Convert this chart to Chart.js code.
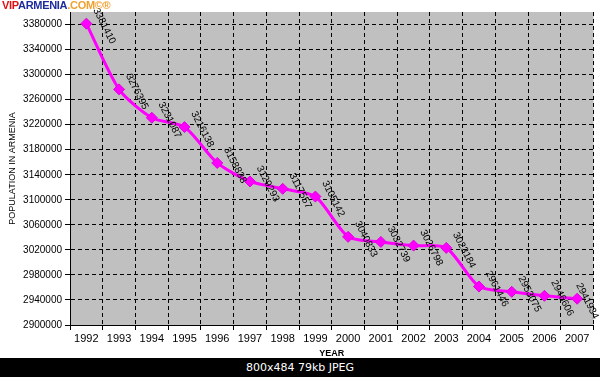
<!DOCTYPE html>
<html lang="en">

<head>
    <meta charset="UTF-8" />
    <title>Population in Armenia</title>
    <script src="https://cdn.jsdelivr.net/npm/chart.js@4.4.1/dist/chart.umd.min.js"></script>
    <style type="text/css">
        body {
            margin: 0;
            background: #fff;
        }

        .chartBox {
            position: relative;
            width: 600px;
            height: 358px;
        }

        .mark {
            position: absolute;
            left: 2px;
            top: -1px;
            font: bold 11px "Liberation Sans", Arial, sans-serif;
            letter-spacing: -0.3px;
        }

        .bar {
            width: 600px;
            height: 19px;
            background: #000;
            color: #fff;
            font: 11px "DejaVu Sans", sans-serif;
            text-align: center;
            line-height: 19px;
        }
    </style>
</head>

<body>
    <div class="chartBox">
        <canvas id="myChart" width="600" height="358"></canvas>
        <div class="mark"><span style="color:#e01010">VIP</span><span style="color:#1c2c9c">ARMENIA</span><span style="color:#f0a030">.COM©®</span></div>
    </div>
    <div class="bar">800x484 79kb JPEG</div>

    <script>
        const years = ['1992', '1993', '1994', '1995', '1996', '1997', '1998', '1999',
            '2000', '2001', '2002', '2003', '2004', '2005', '2006', '2007'];
        const population = [3381410, 3276395, 3231087, 3216138, 3158838, 3129293, 3117557, 3105142,
            3040833, 3032739, 3026798, 3023184, 2961446, 2953075, 2946606, 2941934];
        const yTicks = [2900000, 2940000, 2980000, 3020000, 3060000, 3100000, 3140000,
            3180000, 3220000, 3260000, 3300000, 3340000, 3380000];

        const FONT = '"Liberation Sans", Arial, sans-serif';

        // grey plot area
        const plotBg = {
            id: 'plotBg',
            beforeDraw(chart) {
                const a = chart.chartArea;
                const ctx = chart.ctx;
                ctx.save();
                ctx.fillStyle = '#c0c0c0';
                ctx.fillRect(a.left, a.top, a.right - a.left, a.bottom - a.top);
                ctx.restore();
            }
        };

        // rotated value labels next to each point
        const valueLabels = {
            id: 'valueLabels',
            afterDatasetsDraw(chart) {
                const ctx = chart.ctx;
                const meta = chart.getDatasetMeta(0);
                const ang = Math.PI / 180 * 63;
                ctx.save();
                ctx.font = '10px ' + FONT;
                ctx.fillStyle = '#000';
                ctx.textAlign = 'left';
                ctx.textBaseline = 'middle';
                meta.data.forEach((pt, i) => {
                    const txt = String(population[i]);
                    const w = ctx.measureText(txt).width;
                    let x = pt.x + 9;
                    // keep label inside the canvas
                    const over = x + w * Math.cos(ang) + 4 - chart.width;
                    if (over > 0) x -= over;
                    ctx.save();
                    ctx.translate(x, pt.y - 15);
                    ctx.rotate(ang);
                    ctx.fillText(txt, 0, 0);
                    ctx.restore();
                });
                ctx.restore();
            }
        };

        const ctx = document.getElementById('myChart').getContext('2d');
        const myChart = new Chart(ctx, {
            type: 'line',
            data: {
                labels: years,
                datasets: [{
                    label: 'POPULATION IN ARMENIA',
                    data: population,
                    borderColor: '#ff00ff',
                    backgroundColor: '#ff00ff',
                    borderWidth: 3,
                    tension: 0.25,
                    pointStyle: 'rectRot',
                    pointRadius: 5.5,
                    pointBorderWidth: 1,
                    pointBorderColor: '#e000e0',
                    fill: false
                }]
            },
            options: {
                responsive: false,
                animation: false,
                layout: { padding: { top: 12, right: 5, left: 0, bottom: 0 } },
                plugins: {
                    legend: { display: false },
                    tooltip: { enabled: false }
                },
                scales: {
                    x: {
                        offset: true,
                        grid: {
                            offset: true,
                            color: '#000',
                            lineWidth: 1,
                            tickLength: 5
                        },
                        border: { display: true, color: '#000', width: 1, dash: [4, 3] },
                        ticks: {
                            color: '#000',
                            font: { family: FONT, size: 11 },
                            padding: 2,
                            maxRotation: 0,
                            autoSkip: false
                        },
                        title: {
                            display: true,
                            text: 'YEAR',
                            color: '#000',
                            font: { family: FONT, size: 9, weight: 'bold', lineHeight: 1 },
                            padding: 0
                        },
                        afterFit(scale) { scale.height = 33; }
                    },
                    y: {
                        min: 2900000,
                        max: 3400000,
                        afterBuildTicks(scale) {
                            scale.ticks = yTicks.map(v => ({ value: v }));
                        },
                        grid: {
                            color: '#000',
                            lineWidth: 1,
                            tickLength: 5
                        },
                        border: { display: true, color: '#000', width: 1, dash: [4, 3] },
                        ticks: {
                            color: '#000',
                            font: { family: FONT, size: 10 },
                            padding: 3,
                            autoSkip: false,
                            callback: v => String(v)
                        },
                        title: {
                            display: true,
                            text: 'POPULATION IN ARMENIA',
                            color: '#000',
                            font: { family: FONT, size: 9 },
                            padding: { top: 7, bottom: 0 }
                        },
                        afterFit(scale) { scale.width = 70; }
                    }
                }
            },
            plugins: [plotBg, valueLabels]
        });
    </script>
</body>

</html>
